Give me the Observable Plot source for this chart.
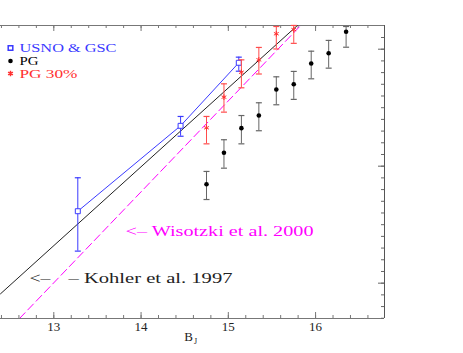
<!DOCTYPE html>
<html><head><meta charset="utf-8">
<script src="https://cdn.jsdelivr.net/npm/d3@7"></script>
<script src="https://cdn.jsdelivr.net/npm/@observablehq/plot@0.6"></script>
<style>body{margin:0;background:#fff}</style>
</head><body><div id="chart"></div>
<script>
// USNO & GSC
const usnoB  = [13.275, 14.453, 15.12];
const usnoN  = [-1.385, -0.655, -0.116];
const usnoLo = [-1.726, -0.744, -0.188];
const usnoHi = [-1.099, -0.575, -0.068];
// PG
const pgB  = [14.75, 14.95, 15.15, 15.35, 15.55, 15.75, 15.95, 16.15, 16.35];
const pgN  = [-1.154, -0.885, -0.675, -0.567, -0.344, -0.299, -0.122, -0.034, 0.149];
const pgLo = [-1.285, -1.017, -0.809, -0.697, -0.475, -0.429, -0.253, -0.162, 0.017];
const pgHi = [-1.045, -0.774, -0.567, -0.458, -0.236, -0.190, -0.017, 0.075, 0.194];
// PG 30%
const pg30B  = [14.75, 14.95, 15.15, 15.35, 15.55, 15.75];
const pg30N  = [-0.672, -0.410, -0.197, -0.091, 0.132, 0.168];
const pg30Lo = [-0.809, -0.538, -0.330, -0.212, 0.002, 0.050];
const pg30Hi = [-0.575, -0.296, -0.091, 0.015, 0.194, 0.203];
// model lines
const kohlerB = [12.389, 15.791];
const kohlerN = [-2.091, 0.2026];
const wisotzkiB = [12.607, 15.829];
const wisotzkiN = [-2.302, 0.2026];
// axes
const xDomain = [12.389, 16.79];
const yDomain = [-2.302, 0.2026];
const xMajor = [13, 14, 15, 16];
const xMinor = d3.range(12.4, 16.79, 0.2);
const yMajor = [-2, -1, 0];
const yMinor = d3.range(-2.3, 0.2, 0.1);
const legendLabels = ["USNO & GSC", "PG", "PG 30%"];
const annotations = ["<– Wisotzki et al. 2000", "<–", "– Kohler et al. 1997"];

const W = 463, H = 353, mL = 0, mR = 79, mT = 25, mB = 35;
const innerW = W - mL - mR, innerH = H - mT - mB;

const blue = "#3a3aff", red = "#ff3030", magenta = "#ff00ff", ink = "#222";
const toRows = (b, n, lo, hi) => b.map((x, i) => ({x, y: n[i], lo: lo ? lo[i] : null, hi: hi ? hi[i] : null}));
const usno = toRows(usnoB, usnoN, usnoLo, usnoHi);
const pg = toRows(pgB, pgN, pgLo, pgHi);
const pg30 = toRows(pg30B, pg30N, pg30Lo, pg30Hi);
const kohler = toRows(kohlerB, kohlerN);
const wisotzki = toRows(wisotzkiB, wisotzkiN);

const cap = {draw(ctx, size) { const w = Math.sqrt(size / Math.PI); ctx.moveTo(-w, 0); ctx.lineTo(w, 0); }};
const serif = "Liberation Serif, serif";

function errorBars(data, color) {
  return [
    Plot.ruleX(data, {x: "x", y1: "lo", y2: "hi", stroke: color, strokeWidth: 1}),
    Plot.dot(data, {x: "x", y: "lo", symbol: cap, r: 3, stroke: color, fill: "none", strokeWidth: 1.2}),
    Plot.dot(data, {x: "x", y: "hi", symbol: cap, r: 3, stroke: color, fill: "none", strokeWidth: 1.2})
  ];
}
const label = (txt, dx, dy, size, color, family = serif) =>
  Plot.text([txt], {frameAnchor: "top-left", dx, dy, textAnchor: "start", lineAnchor: "middle", fontSize: size, fontFamily: family, fill: color});

const chart = Plot.plot({
  width: W, height: H,
  marginLeft: mL, marginRight: mR, marginTop: mT, marginBottom: mB,
  x: {domain: xDomain, axis: null},
  y: {domain: yDomain, axis: null},
  style: {background: "#fff", fontFamily: serif},
  marks: [
    // frame
    Plot.ruleY([yDomain[0]], {stroke: "#777"}),
    Plot.ruleY([yDomain[1]], {stroke: "#777"}),
    Plot.ruleX([xDomain[1]], {stroke: "#555"}),
    // ticks (inward)
    Plot.tickX(xMinor, {x: d => d, insetTop: innerH - 3, stroke: "#777"}),
    Plot.tickX(xMajor, {x: d => d, insetTop: innerH - 6, stroke: "#777"}),
    Plot.tickX(xMinor, {x: d => d, insetBottom: innerH - 3, stroke: "#777"}),
    Plot.tickX(xMajor, {x: d => d, insetBottom: innerH - 6, stroke: "#777"}),
    Plot.tickY(yMinor, {y: d => d, insetLeft: innerW - 3, stroke: "#666"}),
    Plot.tickY(yMajor, {y: d => d, insetLeft: innerW - 6, stroke: "#666"}),
    Plot.axisX({ticks: xMajor, tickSize: 0, tickPadding: 3, label: null, fontSize: 13, fontFamily: serif, fill: ink, tickFormat: d => String(d)}),
    Plot.text(["B"], {frameAnchor: "bottom", dx: -4, dy: 22, fontSize: 13, fontFamily: serif, fill: ink}),
    Plot.text(["J"], {frameAnchor: "bottom", dx: 3, dy: 25, fontSize: 8, fontFamily: serif, fill: ink}),
    // model lines
    Plot.line(kohler, {x: "x", y: "y", stroke: ink, strokeWidth: 1, clip: true}),
    Plot.line(wisotzki, {x: "x", y: "y", stroke: magenta, strokeWidth: 1, strokeDasharray: "8,4", clip: true}),
    // USNO
    ...errorBars(usno, blue),
    Plot.line(usno, {x: "x", y: "y", stroke: blue, strokeWidth: 1}),
    Plot.dot(usno, {x: "x", y: "y", symbol: "square", r: 2.8, stroke: blue, fill: "#fff", strokeWidth: 1}),
    // PG
    ...errorBars(pg, "#666"),
    Plot.dot(pg, {x: "x", y: "y", r: 2.3, fill: "#000", stroke: "none"}),
    // PG 30%
    ...errorBars(pg30, "#ff4c4c"),
    Plot.dot(pg30, {x: "x", y: "y", symbol: "asterisk", r: 2.6, stroke: red, fill: "none", strokeWidth: 1}),
    // legend
    Plot.dot([0], {frameAnchor: "top-left", dx: 10, dy: 22.5, symbol: "square", r: 2.6, stroke: blue, fill: "#fff"}),
    Plot.dot([0], {frameAnchor: "top-left", dx: 10, dy: 35.5, r: 2.3, fill: "#000", stroke: "none"}),
    Plot.dot([0], {frameAnchor: "top-left", dx: 10, dy: 48, symbol: "asterisk", r: 2.6, stroke: red, fill: "none"}),
    label(legendLabels[0], 19, 22.5, 12, blue),
    label(legendLabels[1], 19, 35.5, 12, "#000"),
    label(legendLabels[2], 19, 48.5, 12, red),
    // annotations
    label(annotations[0], 125, 206, 15, magenta),
    label(annotations[1], 29, 253, 15, ink),
    label(annotations[2], 68, 253, 15, ink)
  ]
});
// stretch texts to the widths seen in the reference
const widths = new Map([[legendLabels[0], 97], [legendLabels[1], 19], [legendLabels[2], 58],
  [annotations[0], 188], [annotations[1], 21], [annotations[2], 164]]);
chart.querySelectorAll("text").forEach(t => {
  const L = widths.get(t.textContent);
  if (L) { t.setAttribute("textLength", L); t.setAttribute("lengthAdjust", "spacingAndGlyphs"); }
});
document.getElementById("chart").appendChild(chart);
</script>
</body></html>
